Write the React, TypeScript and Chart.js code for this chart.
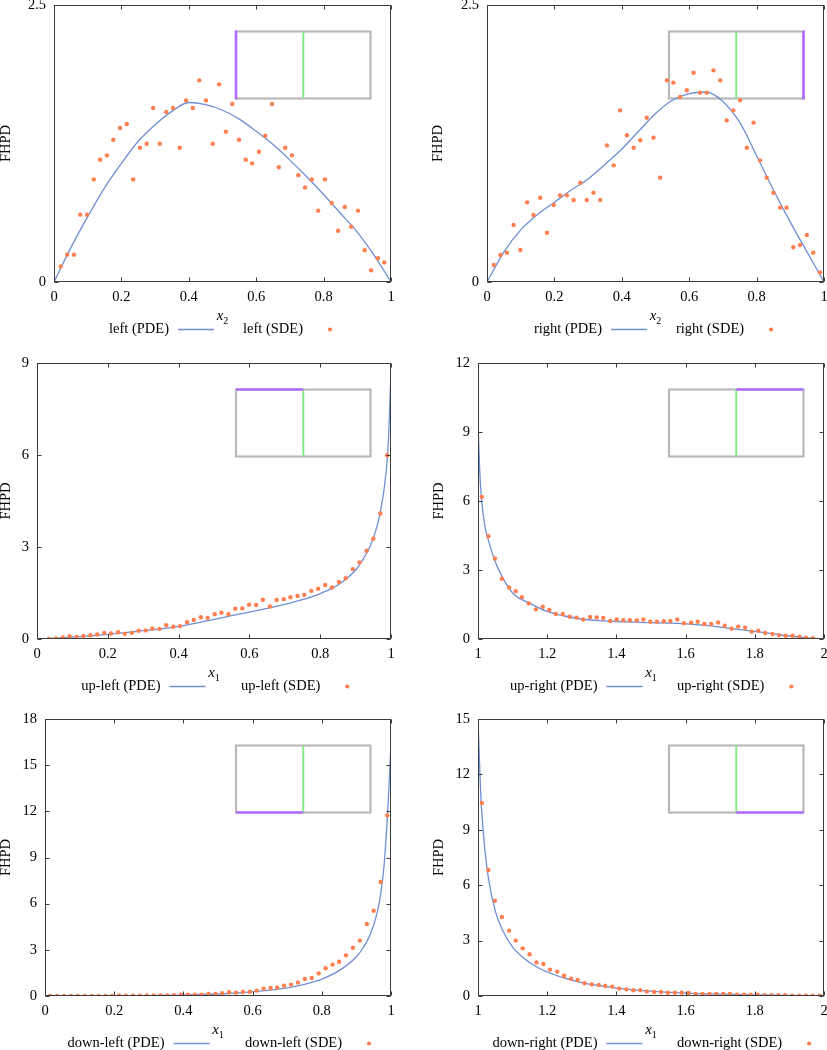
import React, { useEffect, useRef } from "react";
import { Chart, registerables } from "chart.js";

Chart.register(...registerables);

// ---------------- data ----------------
// left (top-left panel)
const leftSdeX = [0.020, 0.039, 0.059, 0.078, 0.098, 0.118, 0.137, 0.157, 0.176, 0.196, 0.216, 0.235, 0.255, 0.275, 0.294, 0.314, 0.333, 0.353, 0.373, 0.392, 0.412, 0.431, 0.451, 0.471, 0.490, 0.510, 0.529, 0.549, 0.569, 0.588, 0.608, 0.627, 0.647, 0.667, 0.686, 0.706, 0.725, 0.745, 0.765, 0.784, 0.804, 0.824, 0.843, 0.863, 0.882, 0.902, 0.922, 0.941, 0.961, 0.980];
const leftSdeY = [0.141, 0.247, 0.247, 0.608, 0.608, 0.926, 1.104, 1.143, 1.284, 1.390, 1.426, 0.926, 1.212, 1.248, 1.570, 1.248, 1.534, 1.570, 1.212, 1.639, 1.570, 1.820, 1.639, 1.248, 1.784, 1.357, 1.606, 1.284, 1.104, 1.071, 1.176, 1.320, 1.606, 1.035, 1.212, 1.143, 0.963, 0.854, 0.926, 0.644, 0.926, 0.713, 0.463, 0.677, 0.499, 0.644, 0.286, 0.105, 0.214, 0.177];
const leftPdeX = [0, 0.05, 0.1, 0.15, 0.2, 0.25, 0.3, 0.35, 0.4, 0.45, 0.5, 0.55, 0.6, 0.65, 0.7, 0.75, 0.8, 0.85, 0.9, 0.95, 1];
const leftPdeY = [0, 0.31, 0.59, 0.85, 1.07, 1.27, 1.42, 1.54, 1.62, 1.60, 1.55, 1.47, 1.36, 1.24, 1.10, 0.95, 0.79, 0.62, 0.45, 0.24, 0];

// right (top-right panel)
const rightSdeX = [0.020, 0.040, 0.059, 0.079, 0.099, 0.119, 0.138, 0.158, 0.178, 0.198, 0.217, 0.237, 0.257, 0.277, 0.296, 0.316, 0.336, 0.356, 0.376, 0.395, 0.415, 0.435, 0.455, 0.474, 0.494, 0.514, 0.534, 0.553, 0.573, 0.593, 0.613, 0.632, 0.652, 0.672, 0.692, 0.711, 0.731, 0.751, 0.771, 0.791, 0.810, 0.830, 0.850, 0.870, 0.889, 0.909, 0.929, 0.949, 0.968, 0.988];
const rightSdeY = [0.153, 0.244, 0.265, 0.514, 0.289, 0.719, 0.605, 0.761, 0.445, 0.695, 0.782, 0.782, 0.740, 0.896, 0.740, 0.806, 0.740, 1.233, 1.053, 1.549, 1.324, 1.212, 1.279, 1.483, 1.303, 0.942, 1.820, 1.799, 1.670, 1.730, 1.889, 1.709, 1.709, 1.910, 1.820, 1.459, 1.549, 1.640, 1.212, 1.438, 1.098, 0.942, 0.806, 0.671, 0.671, 0.313, 0.334, 0.424, 0.265, 0.087];
const rightPdeX = [0, 0.05, 0.1, 0.15, 0.2, 0.25, 0.3, 0.35, 0.4, 0.45, 0.5, 0.55, 0.6, 0.65, 0.7, 0.75, 0.8, 0.85, 0.9, 0.95, 1];
const rightPdeY = [0, 0.27, 0.47, 0.61, 0.72, 0.83, 0.93, 1.06, 1.20, 1.36, 1.52, 1.64, 1.70, 1.715, 1.63, 1.44, 1.14, 0.83, 0.54, 0.27, 0];

// up-left (middle-left panel)
const upLeftSdeX = [0.034, 0.053, 0.073, 0.092, 0.112, 0.131, 0.151, 0.170, 0.190, 0.209, 0.229, 0.248, 0.268, 0.287, 0.307, 0.326, 0.346, 0.365, 0.385, 0.404, 0.424, 0.443, 0.463, 0.482, 0.502, 0.521, 0.541, 0.560, 0.580, 0.599, 0.619, 0.638, 0.658, 0.677, 0.697, 0.716, 0.736, 0.755, 0.775, 0.794, 0.814, 0.833, 0.853, 0.872, 0.892, 0.911, 0.931, 0.950, 0.970, 0.989];
const upLeftSdeY = [0.00, 0.02, 0.05, 0.09, 0.07, 0.10, 0.12, 0.15, 0.20, 0.18, 0.22, 0.17, 0.20, 0.27, 0.28, 0.34, 0.33, 0.45, 0.40, 0.42, 0.55, 0.62, 0.71, 0.69, 0.81, 0.86, 0.81, 0.99, 1.00, 1.12, 1.11, 1.28, 1.06, 1.27, 1.30, 1.36, 1.40, 1.44, 1.57, 1.64, 1.76, 1.68, 1.86, 1.98, 2.28, 2.50, 2.88, 3.27, 4.09, 5.99];
const upLeftPdeX = [0, 0.05, 0.1, 0.15, 0.2, 0.25, 0.3, 0.35, 0.4, 0.45, 0.5, 0.55, 0.6, 0.65, 0.7, 0.75, 0.8, 0.85, 0.9, 0.92, 0.94, 0.96, 0.97, 0.98, 0.99, 0.995, 1];
const upLeftPdeY = [0, 0.03, 0.06, 0.10, 0.15, 0.21, 0.27, 0.33, 0.41, 0.52, 0.64, 0.76, 0.88, 1.00, 1.13, 1.28, 1.48, 1.76, 2.25, 2.58, 3.0, 3.65, 4.15, 4.85, 5.95, 7.1, 8.8];

// up-right (middle-right panel)
const upRightSdeX = [1.011, 1.030, 1.049, 1.069, 1.090, 1.109, 1.127, 1.147, 1.167, 1.187, 1.206, 1.225, 1.245, 1.265, 1.285, 1.304, 1.324, 1.343, 1.362, 1.382, 1.401, 1.420, 1.439, 1.459, 1.478, 1.498, 1.517, 1.537, 1.556, 1.576, 1.595, 1.616, 1.635, 1.654, 1.674, 1.694, 1.713, 1.733, 1.752, 1.772, 1.791, 1.810, 1.830, 1.851, 1.870, 1.889, 1.909, 1.929, 1.948, 1.968];
const upRightSdeY = [6.18, 4.47, 3.50, 2.62, 2.24, 2.08, 1.82, 1.55, 1.29, 1.40, 1.26, 1.09, 1.09, 0.97, 0.93, 0.85, 0.96, 0.94, 0.91, 0.78, 0.85, 0.82, 0.82, 0.81, 0.85, 0.75, 0.75, 0.77, 0.78, 0.85, 0.69, 0.71, 0.75, 0.65, 0.65, 0.72, 0.58, 0.45, 0.54, 0.49, 0.32, 0.36, 0.26, 0.22, 0.17, 0.14, 0.14, 0.10, 0.06, 0.04];
const upRightPdeX = [1, 1.005, 1.01, 1.02, 1.03, 1.05, 1.07, 1.1, 1.15, 1.2, 1.25, 1.3, 1.35, 1.4, 1.45, 1.5, 1.55, 1.6, 1.65, 1.7, 1.75, 1.8, 1.85, 1.9, 1.95, 2];
const upRightPdeY = [9.45, 7.3, 6.1, 4.9, 4.3, 3.35, 2.7, 2.0, 1.55, 1.2, 1.0, 0.87, 0.8, 0.76, 0.73, 0.71, 0.69, 0.66, 0.6, 0.52, 0.42, 0.33, 0.23, 0.13, 0.05, 0];

// down-left (bottom-left panel)
const downLeftSdeX = [0.015, 0.035, 0.055, 0.075, 0.095, 0.115, 0.135, 0.155, 0.175, 0.194, 0.214, 0.234, 0.254, 0.274, 0.294, 0.314, 0.334, 0.353, 0.373, 0.393, 0.413, 0.433, 0.453, 0.473, 0.493, 0.512, 0.532, 0.552, 0.572, 0.592, 0.612, 0.632, 0.652, 0.671, 0.691, 0.711, 0.731, 0.751, 0.771, 0.791, 0.811, 0.831, 0.850, 0.870, 0.890, 0.910, 0.930, 0.950, 0.970, 0.989];
const downLeftSdeY = [0, 0, 0, 0, 0, 0, 0.01, 0.01, 0.01, 0.01, 0.03, 0.02, 0.02, 0.02, 0.03, 0.03, 0.04, 0.04, 0.06, 0.09, 0.09, 0.09, 0.09, 0.13, 0.13, 0.19, 0.24, 0.22, 0.26, 0.28, 0.35, 0.48, 0.52, 0.56, 0.67, 0.74, 0.87, 1.10, 1.17, 1.47, 1.80, 2.04, 2.23, 2.64, 3.14, 3.60, 4.68, 5.54, 7.41, 11.74];
const downLeftPdeX = [0, 0.1, 0.2, 0.3, 0.4, 0.5, 0.55, 0.6, 0.65, 0.7, 0.75, 0.8, 0.85, 0.9, 0.92, 0.94, 0.96, 0.97, 0.98, 0.99, 0.995, 1];
const downLeftPdeY = [0, 0.005, 0.015, 0.03, 0.06, 0.13, 0.19, 0.27, 0.38, 0.53, 0.76, 1.1, 1.65, 2.55, 3.15, 4.0, 5.4, 6.6, 8.5, 11.8, 14.0, 16.5];

// down-right (bottom-right panel)
const downRightSdeX = [1.011, 1.030, 1.049, 1.069, 1.090, 1.109, 1.129, 1.149, 1.169, 1.189, 1.208, 1.229, 1.249, 1.269, 1.288, 1.308, 1.329, 1.349, 1.368, 1.388, 1.408, 1.429, 1.449, 1.469, 1.488, 1.509, 1.529, 1.549, 1.569, 1.589, 1.609, 1.629, 1.649, 1.669, 1.689, 1.709, 1.728, 1.749, 1.769, 1.788, 1.808, 1.829, 1.848, 1.868, 1.888, 1.908, 1.928, 1.948, 1.967, 1.987];
const downRightSdeY = [10.45, 6.82, 5.16, 4.28, 3.54, 3.00, 2.58, 2.26, 1.82, 1.73, 1.43, 1.32, 1.10, 0.94, 0.87, 0.69, 0.63, 0.60, 0.54, 0.51, 0.40, 0.36, 0.31, 0.32, 0.25, 0.22, 0.22, 0.18, 0.18, 0.18, 0.16, 0.11, 0.11, 0.11, 0.11, 0.11, 0.11, 0.07, 0.07, 0.07, 0.07, 0.05, 0.04, 0.04, 0.04, 0.02, 0.02, 0.02, 0.02, 0.02];
const downRightPdeX = [1, 1.005, 1.01, 1.02, 1.03, 1.05, 1.07, 1.1, 1.15, 1.2, 1.25, 1.3, 1.35, 1.4, 1.5, 1.6, 1.7, 1.8, 1.9, 2];
const downRightPdeY = [15, 12.3, 10.2, 7.9, 6.4, 4.6, 3.6, 2.65, 1.8, 1.3, 0.97, 0.73, 0.56, 0.43, 0.26, 0.16, 0.1, 0.06, 0.03, 0];

// ticks
const unitXTicks = [0, 0.2, 0.4, 0.6, 0.8, 1];
const unitXTickLabels = ["0", "0.2", "0.4", "0.6", "0.8", "1"];
const shiftXTicks = [1, 1.2, 1.4, 1.6, 1.8, 2];
const shiftXTickLabels = ["1", "1.2", "1.4", "1.6", "1.8", "2"];
const yTicksTop = [0, 2.5];
const yTickLabelsTop = ["0", "2.5"];
const yTicksUpLeft = [0, 3, 6, 9];
const yTickLabelsUpLeft = ["0", "3", "6", "9"];
const yTicksUpRight = [0, 3, 6, 9, 12];
const yTickLabelsUpRight = ["0", "3", "6", "9", "12"];
const yTicksDownLeft = [0, 3, 6, 9, 12, 15, 18];
const yTickLabelsDownLeft = ["0", "3", "6", "9", "12", "15", "18"];
const yTicksDownRight = [0, 3, 6, 9, 12, 15];
const yTickLabelsDownRight = ["0", "3", "6", "9", "12", "15"];

// ---------------- styles ----------------
const FONT = '"Liberation Serif", "DejaVu Serif", serif';
const FONT_SIZE = 14.5;
const LINE_COLOR = "#6f8fd4";
const DOT_COLOR = "#ff7f50";
const FRAME_COLOR = "#3c3c3c";
const INSET_GRAY = "#b9b9b9";
const INSET_GREEN = "#8aea8a";
const INSET_PURPLE = "#b46dff";
const CANVAS_W = 440;

type Mark = "left" | "right" | "topLeft" | "topRight" | "bottomLeft" | "bottomRight";

interface PanelDef {
  key: string;
  name: string;
  sub: string;
  sdeX: number[];
  sdeY: number[];
  pdeX: number[];
  pdeY: number[];
  xTicks: number[];
  xLabels: string[];
  yTicks: number[];
  yLabels: string[];
  col: number;
  L: number;
  R: number;
  T: number;
  B: number;
  fhpdX: number;
  text2Off: number;
  mark: Mark;
}

const PANELS: PanelDef[] = [
  { key: "l", name: "left", sub: "2", sdeX: leftSdeX, sdeY: leftSdeY, pdeX: leftPdeX, pdeY: leftPdeY, xTicks: unitXTicks, xLabels: unitXTickLabels, yTicks: yTicksTop, yLabels: yTickLabelsTop, col: 0, L: 54, R: 391, T: 5, B: 282, fhpdX: 6.5, text2Off: 20.5, mark: "left" },
  { key: "r", name: "right", sub: "2", sdeX: rightSdeX, sdeY: rightSdeY, pdeX: rightPdeX, pdeY: rightPdeY, xTicks: unitXTicks, xLabels: unitXTickLabels, yTicks: yTicksTop, yLabels: yTickLabelsTop, col: 414, L: 487, R: 824, T: 5, B: 282, fhpdX: 438.5, text2Off: 20.5, mark: "right" },
  { key: "ul", name: "up-left", sub: "1", sdeX: upLeftSdeX, sdeY: upLeftSdeY, pdeX: upLeftPdeX, pdeY: upLeftPdeY, xTicks: unitXTicks, xLabels: unitXTickLabels, yTicks: yTicksUpLeft, yLabels: yTickLabelsUpLeft, col: 0, L: 37, R: 391, T: 363, B: 639, fhpdX: 6.5, text2Off: 27, mark: "topLeft" },
  { key: "ur", name: "up-right", sub: "1", sdeX: upRightSdeX, sdeY: upRightSdeY, pdeX: upRightPdeX, pdeY: upRightPdeY, xTicks: shiftXTicks, xLabels: shiftXTickLabels, yTicks: yTicksUpRight, yLabels: yTickLabelsUpRight, col: 414, L: 478, R: 824, T: 363, B: 639, fhpdX: 439, text2Off: 26, mark: "topRight" },
  { key: "dl", name: "down-left", sub: "1", sdeX: downLeftSdeX, sdeY: downLeftSdeY, pdeX: downLeftPdeX, pdeY: downLeftPdeY, xTicks: unitXTicks, xLabels: unitXTickLabels, yTicks: yTicksDownLeft, yLabels: yTickLabelsDownLeft, col: 0, L: 45, R: 391, T: 719, B: 996, fhpdX: 6, text2Off: 27, mark: "bottomLeft" },
  { key: "dr", name: "down-right", sub: "1", sdeX: downRightSdeX, sdeY: downRightSdeY, pdeX: downRightPdeX, pdeY: downRightPdeY, xTicks: shiftXTicks, xLabels: shiftXTickLabels, yTicks: yTicksDownRight, yLabels: yTickLabelsDownRight, col: 414, L: 478, R: 824, T: 719, B: 996, fhpdX: 439, text2Off: 26, mark: "bottomRight" },
];

function PanelChart({ p }: { p: PanelDef }) {
  const ref = useRef<HTMLCanvasElement | null>(null);
  const top = p.T - 20;
  const height = p.B - p.T + 80;

  useEffect(() => {
    const canvas = ref.current;
    if (!canvas) return;

    const decor = {
      id: "decor",
      beforeDatasetsDraw(chart: any) {
        const ctx = chart.ctx;
        const ca = chart.chartArea;
        const iw = 134.5;
        const ih = 67;
        const ix = ca.right - 20.5 - iw;
        const iy = ca.top + 26.5;
        ctx.save();
        ctx.lineCap = "butt";
        ctx.strokeStyle = INSET_GRAY;
        ctx.lineWidth = 2.2;
        ctx.strokeRect(ix, iy, iw, ih);
        ctx.strokeStyle = INSET_GREEN;
        ctx.lineWidth = 2;
        ctx.beginPath();
        ctx.moveTo(ix + iw / 2, iy);
        ctx.lineTo(ix + iw / 2, iy + ih);
        ctx.stroke();
        ctx.strokeStyle = INSET_PURPLE;
        ctx.lineWidth = 2.6;
        ctx.beginPath();
        if (p.mark === "left") { ctx.moveTo(ix, iy - 1); ctx.lineTo(ix, iy + ih + 1); }
        if (p.mark === "right") { ctx.moveTo(ix + iw, iy - 1); ctx.lineTo(ix + iw, iy + ih + 1); }
        if (p.mark === "topLeft") { ctx.moveTo(ix, iy); ctx.lineTo(ix + iw / 2, iy); }
        if (p.mark === "topRight") { ctx.moveTo(ix + iw / 2, iy); ctx.lineTo(ix + iw, iy); }
        if (p.mark === "bottomLeft") { ctx.moveTo(ix, iy + ih); ctx.lineTo(ix + iw / 2, iy + ih); }
        if (p.mark === "bottomRight") { ctx.moveTo(ix + iw / 2, iy + ih); ctx.lineTo(ix + iw, iy + ih); }
        ctx.stroke();
        ctx.restore();
      },
      afterDatasetsDraw(chart: any) {
        const ctx = chart.ctx;
        const ca = chart.chartArea;
        const xs = chart.scales.x;
        const ys = chart.scales.y;
        const l = Math.round(ca.left) + 0.5;
        const r = Math.round(ca.right) - 0.5;
        const t = Math.round(ca.top) + 0.5;
        const b = Math.round(ca.bottom) - 0.5;
        ctx.save();
        ctx.strokeStyle = FRAME_COLOR;
        ctx.lineWidth = 1;
        ctx.strokeRect(l, t, r - l, b - t);
        ctx.beginPath();
        const tl = 4;
        p.xTicks.forEach((v) => {
          const px = Math.round(xs.getPixelForValue(v)) + 0.5;
          ctx.moveTo(px, b); ctx.lineTo(px, b - tl);
          ctx.moveTo(px, t); ctx.lineTo(px, t + tl);
        });
        p.yTicks.forEach((v) => {
          const py = Math.round(ys.getPixelForValue(v)) + 0.5;
          ctx.moveTo(l, py); ctx.lineTo(l + tl, py);
          ctx.moveTo(r, py); ctx.lineTo(r - tl, py);
        });
        ctx.stroke();
        ctx.restore();
      },
      afterDraw(chart: any) {
        const ctx = chart.ctx;
        const ca = chart.chartArea;
        const cx = (ca.left + ca.right) / 2;
        const bottom = ca.bottom;
        ctx.save();
        ctx.fillStyle = "#000";
        // y title
        ctx.save();
        ctx.translate(p.fhpdX - p.col, (ca.top + ca.bottom) / 2);
        ctx.rotate(-Math.PI / 2);
        ctx.font = `${FONT_SIZE}px ${FONT}`;
        ctx.textAlign = "center";
        ctx.textBaseline = "middle";
        ctx.fillText("FHPD", 0, 0);
        ctx.restore();
        // x title
        ctx.font = `italic 15px ${FONT}`;
        ctx.textAlign = "left";
        ctx.textBaseline = "middle";
        const xw = ctx.measureText("x").width;
        ctx.font = `10px ${FONT}`;
        const sw = ctx.measureText(p.sub).width;
        const tx = cx - (xw + sw) / 2;
        ctx.font = `italic 15px ${FONT}`;
        ctx.fillText("x", tx, bottom + 34);
        ctx.font = `10px ${FONT}`;
        ctx.fillText(p.sub, tx + xw, bottom + 39.5);
        // legend
        const ly = bottom + 47;
        ctx.font = `${FONT_SIZE}px ${FONT}`;
        ctx.textBaseline = "middle";
        const lineEnd = cx - 8.5;
        const lineStart = lineEnd - 36;
        ctx.textAlign = "right";
        ctx.fillText(`${p.name} (PDE)`, lineStart - 9, ly);
        ctx.strokeStyle = LINE_COLOR;
        ctx.lineWidth = 1.3;
        ctx.beginPath();
        ctx.moveTo(lineStart, ly + 0.5);
        ctx.lineTo(lineEnd, ly + 0.5);
        ctx.stroke();
        ctx.textAlign = "left";
        const t2 = `${p.name} (SDE)`;
        const t2x = cx + p.text2Off;
        ctx.fillText(t2, t2x, ly);
        const dotX = t2x + ctx.measureText(t2).width + 27;
        ctx.fillStyle = DOT_COLOR;
        ctx.beginPath();
        ctx.arc(dotX, ly + 0.5, 2.1, 0, Math.PI * 2);
        ctx.fill();
        ctx.restore();
      },
    };

    const chart = new Chart(canvas, {
      type: "scatter",
      data: {
        datasets: [
          {
            label: `${p.name} (SDE)`,
            data: p.sdeX.map((x, i) => ({ x, y: p.sdeY[i] })),
            showLine: false,
            pointRadius: 2.2,
            pointBorderWidth: 0,
            pointBackgroundColor: DOT_COLOR,
            backgroundColor: DOT_COLOR,
            borderColor: DOT_COLOR,
          },
          {
            label: `${p.name} (PDE)`,
            data: p.pdeX.map((x, i) => ({ x, y: p.pdeY[i] })),
            showLine: true,
            pointRadius: 0,
            borderColor: LINE_COLOR,
            borderWidth: 1.3,
            cubicInterpolationMode: "monotone",
            fill: false,
          },
        ],
      },
      options: {
        responsive: false,
        animation: false,
        devicePixelRatio: 1,
        events: [],
        layout: { padding: { top: 20, left: 0, right: CANVAS_W - (p.R - p.col), bottom: 0 } },
        plugins: { legend: { display: false }, tooltip: { enabled: false } },
        scales: {
          x: {
            type: "linear",
            min: p.xTicks[0],
            max: p.xTicks[p.xTicks.length - 1],
            afterBuildTicks: (s: any) => { s.ticks = p.xTicks.map((v) => ({ value: v })); },
            afterFit: (s: any) => { s.height = 60; },
            grid: { display: false, drawTicks: false },
            border: { display: false },
            ticks: {
              autoSkip: false,
              maxRotation: 0,
              padding: 6,
              color: "#000",
              font: { family: FONT, size: FONT_SIZE },
              callback: (_v: any, i: number) => p.xLabels[i],
            },
          },
          y: {
            type: "linear",
            min: p.yTicks[0],
            max: p.yTicks[p.yTicks.length - 1],
            afterBuildTicks: (s: any) => { s.ticks = p.yTicks.map((v) => ({ value: v })); },
            afterFit: (s: any) => { s.width = p.L - p.col; },
            grid: { display: false, drawTicks: false },
            border: { display: false },
            ticks: {
              autoSkip: false,
              padding: 8,
              color: "#000",
              font: { family: FONT, size: FONT_SIZE },
              callback: (_v: any, i: number) => p.yLabels[i],
            },
          },
        },
      } as any,
      plugins: [decor],
    });
    return () => chart.destroy();
  }, [p]);

  return (
    <canvas
      ref={ref}
      width={CANVAS_W}
      height={height}
      style={{ position: "absolute", left: p.col, top, width: CANVAS_W, height }}
    />
  );
}

export default function App() {
  return (
    <div style={{ position: "absolute", left: 0, top: 0, width: 827, height: 1050, overflow: "hidden", background: "#fff" }}>
      {PANELS.map((p) => (
        <PanelChart key={p.key} p={p} />
      ))}
    </div>
  );
}
